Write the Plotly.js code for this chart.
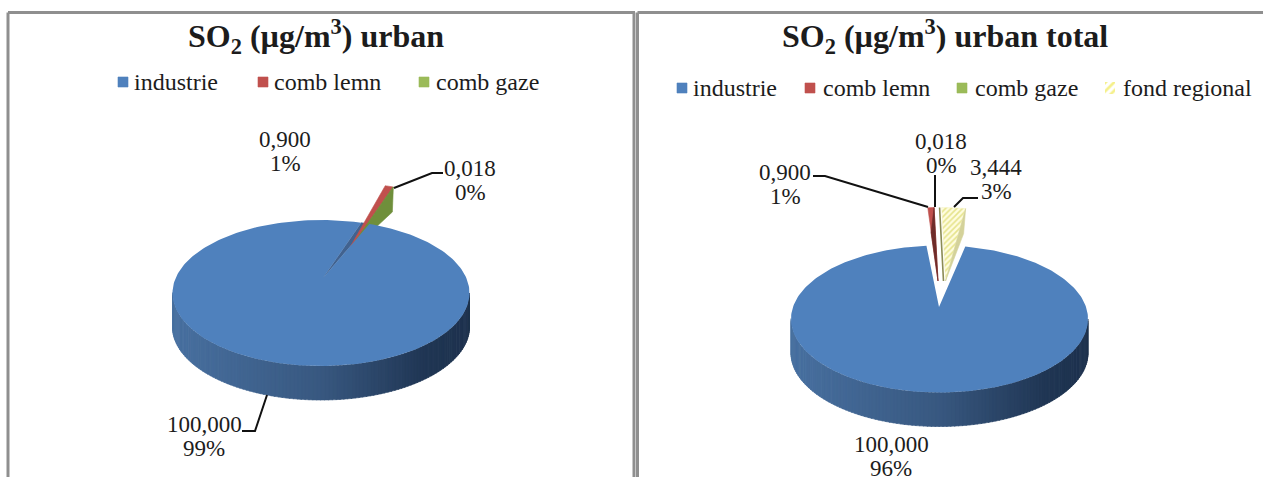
<!DOCTYPE html>
<html><head><meta charset="utf-8">
<script src="https://cdn.plot.ly/plotly-3.0.1.min.js"></script>
<style>html,body{margin:0;padding:0;background:#fff;overflow:hidden}#c{width:1263px;height:477px}</style>
</head><body><div id="c"></div>
<script>
// ---- data ----
const categoriesUrban = ['industrie', 'comb lemn', 'comb gaze'];
const valuesUrban = [100.000, 0.900, 0.018];
const categoriesTotal = ['industrie', 'comb lemn', 'comb gaze', 'fond regional'];
const valuesTotal = [100.000, 0.900, 0.018, 3.444];
const titleUrban = 'SO<sub>2</sub> (µg/m<sup>3</sup>) urban';
const titleTotal = 'SO<sub>2</sub> (µg/m<sup>3</sup>) urban total';

// ---- styling and layout ----
const FONT = '"Liberation Serif","Times New Roman",serif';
const TXT = '#1c1c1c';
const COL = {top: ['#4f81bd', '#c0504d', '#76923c', '#fffde0'],
             wall: [null, '#6e2c2a', '#6f8f3b', '#d4d29a'],
             key: ['#4f81bd', '#c0504d', '#9bbb59', '#fff7a8']};

const charts = [
 {cats: categoriesUrban, vals: valuesUrban, title: titleUrban, tx: 316, ty: 36,
  cx: 321, cy: 293, rx: 148.5, ry: 73, depth: 34, rot: 19, hub: [323, 278], gapFill: '#41628f',
  ex: [24, -37], sx: 1, wallH: 25, walls: [2], wallDx: [0, 0, 1, 0],
  keyY: 82, keyX: [118, 258, 419], keyTx: [132, 272, 434],
  labels: [[204, 424], [285, 139], [470, 168]],
  leaders: [[[267, 395], [255, 431], [242, 431]], [[394, 188], [432, 173], [443, 173]]]},
 {cats: categoriesTotal, vals: valuesTotal, title: titleTotal, tx: 945, ty: 36,
  cx: 939.5, cy: 319, rx: 148.5, ry: 73.5, depth: 34, rot: 10, hub: [939, 307], gapFill: null,
  ex: [[-1.5, -38], [4, -38], [6, -38]], sx: 0.78, wallH: 25, walls: [1, 3], wallDx: [0, 3, 0, 2],
  keyY: 88, keyX: [677, 805, 957, 1105], keyTx: [691, 821, 973, 1121],
  labels: [[891, 444], [785, 172], [941, 141], [996, 167]],
  leaders: [[[928, 207], [825, 176], [813, 176]], [[935, 207], [935, 175]], [[954, 207], [963, 198], [978, 198]]]}
];

const D2R = Math.PI / 180;
const traces = [], ann = [];
const poly = (pts, fill, extra) => Object.assign({
  x: pts.map(p => p[0]), y: pts.map(p => p[1]), mode: 'lines', fill: 'toself', fillcolor: fill,
  line: {color: fill, width: 0.6}, hoverinfo: 'skip', showlegend: false, type: 'scatter'}, extra || {});
const hatch = {shape: '/', fgcolor: '#e6e48c', bgcolor: '#fffde0', size: 4, solidity: 0.4};
const stops = [[0, [72, 112, 160]], [0.5, [56, 88, 128]], [0.85, [32, 54, 84]], [1, [30, 50, 78]]];
function wallColor(t) {
  for (let i = 1; i < stops.length; i++) if (t <= stops[i][0]) {
    const a = stops[i - 1], b = stops[i], f = (t - a[0]) / (b[0] - a[0]);
    return 'rgb(' + a[1].map((v, k) => Math.round(v + (b[1][k] - v) * f)).join(',') + ')';
  }
  return 'rgb(30,50,78)';
}
function label(x, y, text, size, bold) {
  ann.push({x, y, xref: 'x', yref: 'y', text: bold ? '<b>' + text + '</b>' : text, showarrow: false,
    xanchor: 'center', yanchor: 'middle', font: {family: FONT, size, color: TXT}});
}

charts.forEach(c => {
  const total = c.vals.reduce((a, b) => a + b, 0);
  const rim = (phi, sx) => [(sx || 1) * c.rx * Math.sin(phi * D2R), -c.ry * Math.cos(phi * D2R)];
  // slice angles, clockwise from the top, from the values
  let a = c.rot;
  const spans = c.vals.map(v => { const s = [a, a + v / total * 360]; a = s[1]; return s; });

  // front wall of the big slice
  const step = 1.5;
  for (let p = 90; p < 270; p += step) {
    const r0 = rim(p), r1 = rim(p + step + 0.3);
    const x0 = c.cx + r0[0], x1 = c.cx + r1[0], y0 = c.cy + r0[1], y1 = c.cy + r1[1];
    const t = 1 - ((x0 + x1) / 2 - (c.cx - c.rx)) / (2 * c.rx);
    // the wall darkens from the left end towards the right end
    traces.push(poly([[x0, y0], [x1, y1], [x1, y1 + c.depth], [x0, y0 + c.depth], [x0, y0]], wallColor(1 - t)));
  }
  // inner wall seen through the gap
  const bl = spans[0];
  const gapA = rim(bl[1] - 360), gapB = rim(bl[0]);
  if (c.gapFill) traces.push(poly([c.hub, [c.cx + gapA[0], c.cy + gapA[1]], [c.cx + gapB[0], c.cy + gapB[1]], c.hub], c.gapFill));

  // exploded small slices
  for (let i = 1; i < c.vals.length; i++) {
    const e = Array.isArray(c.ex[0]) ? c.ex[i - 1] : c.ex;
    const ax = c.cx + e[0], ay = c.cy + e[1];
    const pts = [[ax, ay]];
    for (let k = 0; k <= 6; k++) {
      const r = rim(spans[i][0] + (spans[i][1] - spans[i][0]) * k / 6, c.sx);
      pts.push([ax + r[0], ay + r[1]]);
    }
    pts.push([ax, ay]);
    const yellow = i === 3;
    const last = pts[pts.length - 2];
    const wall = c.walls.includes(i) ? poly([[ax, ay], last, [last[0] - c.wallDx[i], last[1] + c.wallH], [ax, ay]], COL.wall[i]) : null;
    traces.push(poly(pts, COL.top[i], yellow ? {fillpattern: hatch, fillcolor: 'rgba(0,0,0,0)', line: {color: '#f4f2c4', width: 0.5}} :
      (i === 2 && c.walls.length === 2 ? {line: {color: '#8b8b55', width: 1.6}} : {})));
    if (wall) traces.push(wall);
  }

  // top face of the big slice
  const top = [c.hub];
  const n = 240;
  for (let k = 0; k <= n; k++) {
    const r = rim(bl[0] + (bl[1] - bl[0]) * k / n);
    top.push([c.cx + r[0], c.cy + r[1]]);
  }
  top.push(c.hub);
  traces.push(poly(top, COL.top[0], {line: {color: COL.top[0], width: 0}}));

  // leader lines
  c.leaders.forEach(l => traces.push({x: l.map(p => p[0]), y: l.map(p => p[1]), mode: 'lines', type: 'scatter',
    line: {color: '#111', width: 2}, hoverinfo: 'skip', showlegend: false}));

  // title, legend keys, data labels
  label(c.tx, c.ty, c.title, 32, true);
  c.cats.forEach((name, i) => {
    const kx = c.keyX[i], ky = c.keyY;
    if (i === 3) {
      traces.push(poly([[kx, ky - 6], [kx + 10, ky - 6], [kx + 10, ky + 6], [kx, ky + 6], [kx, ky - 6]], 'rgba(0,0,0,0)',
        {fillpattern: {shape: '/', fgcolor: '#f5f08a', bgcolor: '#ffffff', size: 6, solidity: 0.45}, line: {width: 0, color: '#fff'}}));
    } else {
      traces.push(poly([[kx, ky - 5], [kx + 10, ky - 5], [kx + 10, ky + 5], [kx, ky + 5], [kx, ky - 5]], COL.key[i]));
    }
    ann.push({x: c.keyTx[i], y: ky, xref: 'x', yref: 'y', text: name, showarrow: false, xanchor: 'left', yanchor: 'middle',
      font: {family: FONT, size: 24, color: TXT}});
    const v = c.vals[i].toFixed(3).replace('.', ',');
    const pct = Math.round(c.vals[i] / total * 100) + '%';
    label(c.labels[i][0], c.labels[i][1], v, 23);
    label(c.labels[i][0], c.labels[i][1] + 24.5, pct, 23);
  });
});

const frame = (x0, y0, x1, y1) => ({type: 'line', xref: 'x', yref: 'y', x0, y0, x1, y1, line: {color: '#8f8f8f', width: 3}});
const shapes = [frame(8, 12.5, 8, 477), frame(8, 12.5, 635, 12.5), frame(634, 12.5, 634, 477),
                frame(637.5, 12.5, 637.5, 477), frame(637.5, 12.5, 1263, 12.5)];

Plotly.newPlot('c', traces, {
  width: 1263, height: 477, margin: {l: 0, r: 0, t: 0, b: 0}, showlegend: false,
  paper_bgcolor: '#fff', plot_bgcolor: '#fff',
  xaxis: {range: [0, 1263], visible: false, fixedrange: true},
  yaxis: {range: [477, 0], visible: false, fixedrange: true},
  annotations: ann, shapes
}, {staticPlot: true, displayModeBar: false});
</script></body></html>
